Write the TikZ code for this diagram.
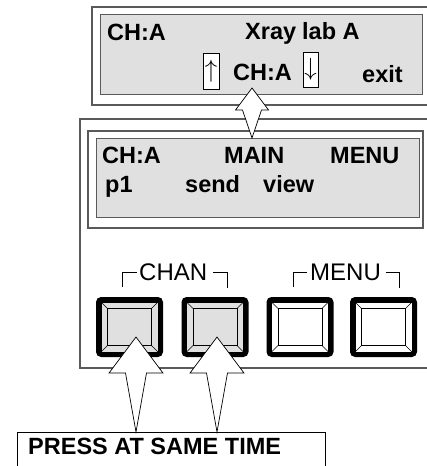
\documentclass[tikz,border=0pt]{standalone}
\usepackage{fontspec}
\setmainfont{Liberation Sans}
\usetikzlibrary{calc}
\definecolor{lcdgray}{HTML}{E0E0E0}
\definecolor{framegray}{HTML}{5A5A5A}

% hollow block arrow: tail, tip, head length, head half width, shaft half width
\newcommand\bigarrow[5]{%
  \filldraw[hollow] let \p1=(#1), \p2=(#2) in
    (\p2) -- (\x2+#4pt,\y2-#3pt) -- (\x2+#5pt,\y2-#3pt) -- (\p1)
    -- (\x2-#5pt,\y2-#3pt) -- (\x2-#4pt,\y2-#3pt) -- cycle;}

\begin{document}
\begin{tikzpicture}[x=1pt, y=-1pt, font=\fontsize{24}{28}\selectfont,
		lcd/.style={draw=framegray, fill=lcdgray, line width=1pt, outer sep=0pt, anchor=north west},
		frame/.style={draw=framegray, line width=1.2pt},
		lbl/.style={anchor=base west, inner sep=0pt, font=\fontsize{23.5}{28}\selectfont\bfseries},
		grplbl/.style={anchor=base west, inner sep=0pt},
		keybtn/.style={draw, line width=5pt, rounded corners=3pt, minimum width=62pt, minimum height=55pt, outer sep=0pt, inner sep=0pt},
		arrowbox/.style={draw, line width=0.7pt, fill=white, minimum width=16pt, minimum height=36pt, inner sep=0pt, font=\fontsize{30}{30}\selectfont},
		hollow/.style={draw, fill=white, line width=0.7pt, line join=miter}]
	
	\useasboundingbox (0,0) rectangle (427,466);
	
	% frames
	\draw[frame] (427,7) -- (92,7) -- (92,105) -- (427,105);
	\draw[frame] (427,119) -- (80,119) -- (80,368) -- (427,368);
	\draw[frame] (88,131) rectangle (423,228);
	
	% displays
	\node[lcd, minimum width=322pt, minimum height=80pt] (topLcd) at (100,14) {};
	\node[lcd, minimum width=323pt, minimum height=79pt] (mainLcd) at (96,138) {};
	
	\node[lbl] (t1) at (107,40) {CH:A};
	\node[lbl] (t2) at (245,39) {Xray};
	\node[lbl] (t3) at (302,39) {lab A};
	\node[arrowbox] (upKey) at (211,71) {$\uparrow$};
	\node[lbl] (t4) at (233,80) {CH:A};
	\node[arrowbox, minimum width=15pt, minimum height=35pt] (downKey) at (310.5,69.5) {$\downarrow$};
	\node[lbl] (t5) at (362,82) {exit};
	
	\node[lbl] (m1) at (102,163) {CH:A};
	\node[lbl] (m2) at (224,163) {MAIN};
	\node[lbl] (m3) at (330,163) {MENU};
	\node[lbl] (m4) at (105,192) {p1};
	\node[lbl] (m5) at (185,192) {send};
	\node[lbl] (m6) at (263,192) {view};
	
	% key groups
	\draw[line width=0.8pt] (122,287) -- (122,272) -- (137,272);
	\node[grplbl] (chanLbl) at (139,280) {CHAN};
	\draw[line width=0.8pt] (213,272) -- (227,272) -- (227,288);
	\draw[line width=0.8pt] (293,287) -- (293,272) -- (307,272);
	\node[grplbl] (menuLbl) at (310,280) {MENU};
	\draw[line width=0.8pt] (386,272) -- (399,272) -- (399,288);
	
	\node[keybtn, fill=lcdgray] (chanA) at (129.5,327) {};
	\node[keybtn, fill=lcdgray] (chanB) at (215,327) {};
	\node[keybtn, fill=white] (menuA) at (300,327) {};
	\node[keybtn, fill=white] (menuB) at (383.5,327) {};
	
	\foreach \b in {chanA,chanB,menuA,menuB}{
		\draw[line width=0.6pt] ($(\b.south west)+(2.5pt,2.5pt)$) rectangle ($(\b.north east)-(2.5pt,2.5pt)$);
		\draw[line width=0.6pt] ($(\b.south west)+(9pt,9pt)$) rectangle ($(\b.north east)-(9pt,9pt)$);
		\foreach \c/\sx/\sy in {south west/1/1, south east/-1/1, north west/1/-1, north east/-1/-1}
			\draw[line width=0.6pt] ($(\b.\c)+(\sx*2.5pt,\sy*2.5pt)$) -- ($(\b.\c)+(\sx*9pt,\sy*9pt)$);
	}
	
	% note
	\node[draw, line width=0.8pt, anchor=north west, minimum width=308pt, minimum height=50pt, outer sep=0pt] (pressBox) at (17,432) {};
	\node[lbl] (pressLbl) at (28,454) {PRESS AT SAME TIME};
	
	% arrows
	\coordinate (upTail) at ($(mainLcd.north)+(-5.5,0)$);
	\coordinate (upTip) at ($(topLcd.south)+(-9,-6)$);
	\coordinate (tipA) at ($(chanA)+(6.5,10)$);
	\coordinate (tipB) at ($(chanB)+(2,10)$);
	\coordinate (tailA) at ($(pressBox.north west)+(119,0)$);
	\coordinate (tailB) at ($(pressBox.north west)+(200,0)$);
	
	\bigarrow{upTail}{upTip}{22}{16.5}{9.5}
	\bigarrow{tailA}{tipA}{36}{27}{10.5}
	\bigarrow{tailB}{tipB}{36}{27}{10.5}
	
\end{tikzpicture}
\end{document}
